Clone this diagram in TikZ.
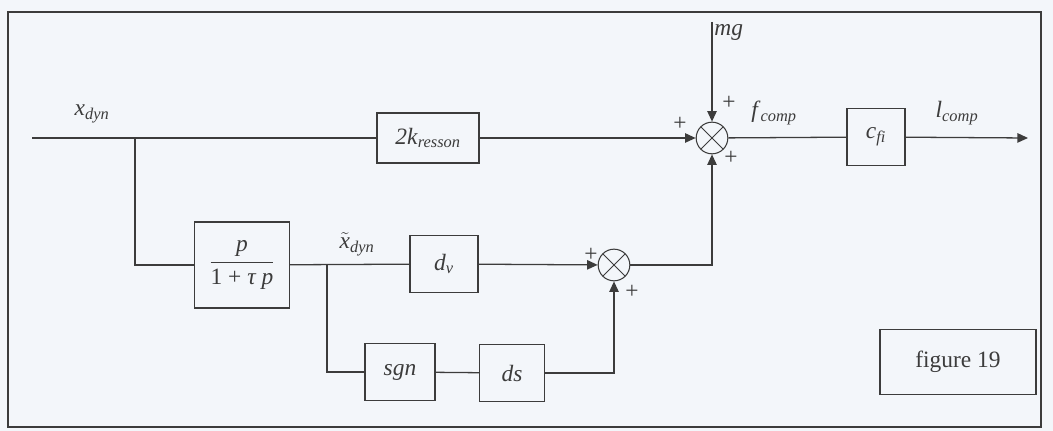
\documentclass[tikz,border=0pt]{standalone}
\usepackage{fontspec}
\setmainfont{Liberation Serif}
\usetikzlibrary{arrows.meta, positioning, calc}
\definecolor{paper}{HTML}{F3F6FA}
\definecolor{ink}{HTML}{3C3C3C}
\newcommand{\varsub}[2]{\textit{#1}\textsubscript{\textit{#2}}}

\tikzset{
  blk/.style={draw=ink, fill=paper, line width=0.9pt, inner sep=2pt},
  sumnode/.style={draw=ink, circle, line width=0.9pt, minimum size=0.95cm, inner sep=0pt,
    path picture={\draw[ink, line width=0.8pt]
      (path picture bounding box.south west) -- (path picture bounding box.north east)
      (path picture bounding box.north west) -- (path picture bounding box.south east);}},
  wire/.style={draw=ink, line width=1.1pt},
  sig/.style={wire, -{Triangle[length=9pt, width=8pt]}},
  lbl/.style={text=ink, font=\fontsize{20}{22}\selectfont},
  sgnmark/.style={text=ink, font=\fontsize{20}{22}\selectfont}
}

\begin{document}
\begin{tikzpicture}[x=0.03cm, y=-0.03cm]
  % background and frame
  \fill[paper] (0,0) rectangle (1053,431);
  \draw[ink, line width=1.1pt] (8,12) rectangle (1041,427);

  % main path
  \coordinate (in) at (32,138);
  \coordinate (b1) at (135,138);
  \node[blk, lbl, minimum width=3.06cm, minimum height=1.5cm] (res) at (428,138) {\varsub{2k}{resson}};
  \node[sumnode] (sum1) at (712,138) {};
  \coordinate (mgtop) at (712,22);
  \node[blk, lbl, minimum width=1.74cm, minimum height=1.71cm] (cf) at (876,137) {\varsub{c}{fi}};
  \coordinate (out) at (1028,138);

  % lower path
  \node[blk, lbl, minimum width=2.85cm, minimum height=2.58cm] (filt) at (242,265)
    {$\displaystyle\frac{\textit{p}}{\mbox{1 + \textit{τ p}}}$};
  \coordinate (b2) at (327,265);
  \node[blk, lbl, minimum width=2.04cm, minimum height=1.71cm] (dv) at (444,264) {\varsub{d}{v}};
  \node[sumnode] (sum2) at (614,265) {};
  \node[blk, lbl, minimum width=2.1cm, minimum height=1.71cm] (sgn) at (400,372) {\textit{sgn}};
  \node[blk, lbl, minimum width=1.95cm, minimum height=1.71cm] (ds) at (512,373) {\textit{ds}};

  \node[blk, lbl, minimum width=4.68cm, minimum height=1.95cm] (fig) at (958,362) {figure 19};

  % connectors
  \draw[wire] (in) -- (res);
  \draw[sig] (res) -- (sum1);
  \draw[sig] (mgtop) -- (sum1);
  \draw[wire] (sum1) -- (cf);
  \draw[sig] (cf) -- (out);
  \draw[wire] (b1) |- (filt);
  \draw[wire] (filt) -- (dv);
  \draw[sig] (dv) -- (sum2);
  \draw[wire] (b2) |- (sgn);
  \draw[wire] (sgn) -- (ds);
  \draw[sig] (ds) -| (sum2);
  \draw[sig] (sum2) -| (sum1);

  % signal labels
  \node[lbl] (lx) at (92,114) {\varsub{x}{dyn}};
  \node[lbl] (lxt) at (357,244) {$\tilde{\textit{x}}$\textsubscript{\textit{dyn}}};
  \node[lbl, anchor=west, inner sep=1pt] (lmg) at (713,32) {\textit{mg}};
  \node[lbl] (lf) at (774,113) {\varsub{f}{comp}};
  \node[lbl] (ll) at (957,113) {\varsub{l}{comp}};

  % signs
  \node[sgnmark] at (680,124) {+};
  \node[sgnmark] at (729,103) {+};
  \node[sgnmark] at (731,158) {+};
  \node[sgnmark] at (591,255) {+};
  \node[sgnmark] at (632,292) {+};
\end{tikzpicture}
\end{document}
